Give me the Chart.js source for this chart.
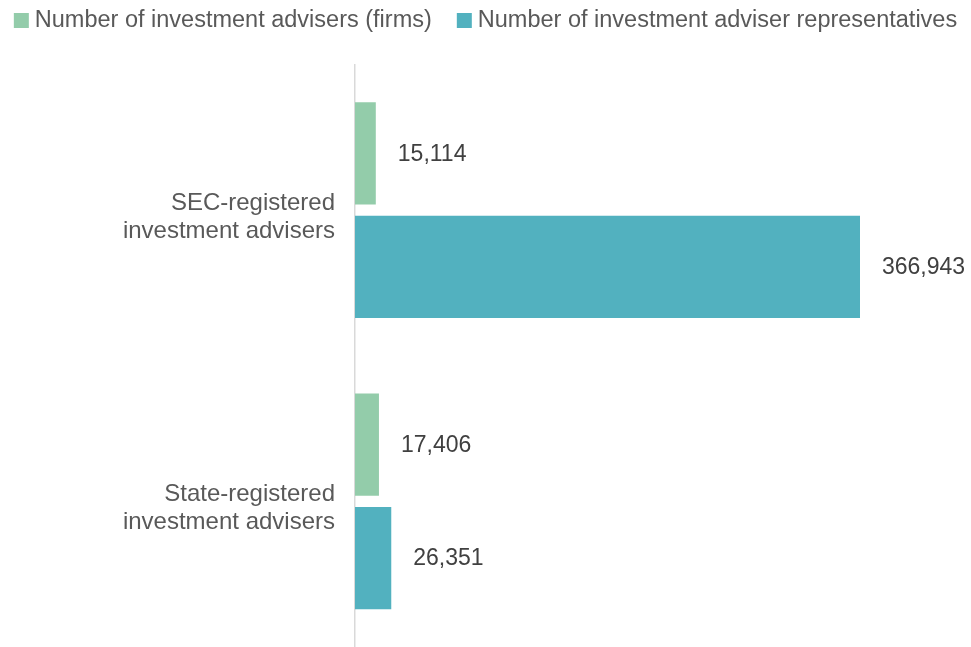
<!DOCTYPE html>
<html>
<head>
<meta charset="utf-8">
<script src="https://cdn.jsdelivr.net/npm/chart.js@4.4.0/dist/chart.umd.min.js"></script>
<style>
  html, body { margin: 0; padding: 0; background: #ffffff; }
  #wrap { width: 971px; height: 647px; position: relative; }
</style>
</head>
<body>
<div id="wrap"><canvas id="advisersChart"></canvas></div>
<script>
// categories (two-line tick labels)
const categories = [
  ["SEC-registered", "investment advisers"],
  ["State-registered", "investment advisers"]
];
const seriesNames = [
  "Number of investment advisers (firms)",
  "Number of investment adviser representatives"
];
const firmCounts = [15114, 17406];
const representativeCounts = [366943, 26351];

const FONT = "'Liberation Sans', Arial, sans-serif";
const GREEN = "#93CCAA";
const TEAL = "#52B1BF";

Chart.defaults.font.family = FONT;

// legend drawn by hand so the spacing matches the original
const topLegend = {
  id: "topLegend",
  afterDraw(chart) {
    const ctx = chart.ctx;
    const box = 15, gapText = 6, gapItem = 25, y = 20;
    ctx.save();
    ctx.font = "23.5px " + FONT;
    ctx.textBaseline = "middle";
    ctx.textAlign = "left";
    const items = chart.data.datasets.map(ds => ({
      text: ds.label,
      color: ds.backgroundColor,
      w: box + gapText + ctx.measureText(ds.label).width
    }));
    const total = items.reduce((s, it) => s + it.w, 0) + gapItem * (items.length - 1);
    let x = (chart.width - total) / 2;
    items.forEach(it => {
      ctx.fillStyle = it.color;
      ctx.fillRect(x, y - box / 2 + 0.5, box, box);
      ctx.fillStyle = "#595959";
      ctx.fillText(it.text, x + box + gapText, y + 1);
      x += it.w + gapItem;
    });
    ctx.restore();
  }
};

// value labels to the right of each bar
const valueLabels = {
  id: "valueLabels",
  afterDatasetsDraw(chart) {
    const ctx = chart.ctx;
    ctx.save();
    ctx.font = "23px " + FONT;
    ctx.fillStyle = "#404040";
    ctx.textBaseline = "middle";
    ctx.textAlign = "left";
    chart.data.datasets.forEach((ds, i) => {
      chart.getDatasetMeta(i).data.forEach((bar, j) => {
        ctx.fillText(ds.data[j].toLocaleString("en-US"), bar.x + 22, bar.y + 1);
      });
    });
    ctx.restore();
  }
};

new Chart(document.getElementById("advisersChart"), {
  type: "bar",
  data: {
    labels: categories,
    datasets: [
      {
        label: seriesNames[0],
        data: firmCounts,
        backgroundColor: GREEN,
        categoryPercentage: 0.779,
        barPercentage: 0.903
      },
      {
        label: seriesNames[1],
        data: representativeCounts,
        backgroundColor: TEAL,
        categoryPercentage: 0.779,
        barPercentage: 0.903
      }
    ]
  },
  options: {
    indexAxis: "y",
    responsive: true,
    maintainAspectRatio: false,
    animation: false,
    layout: { padding: { top: 64.5, bottom: -3.5, left: 0, right: 0 } },
    plugins: {
      legend: { display: false },
      tooltip: { enabled: false }
    },
    scales: {
      x: {
        display: false,
        min: 0,
        max: 447600
      },
      y: {
        grid: { display: false, drawTicks: false },
        border: { display: true, color: "#d9d9d9", width: 1.5 },
        ticks: {
          color: "#595959",
          padding: 20,
          labelOffset: 7,
          font: { size: 24, lineHeight: 1.17 }
        },
        afterFit(scale) {
          scale.width = 355;
          // labels sit mid-band, let layout.padding decide top/bottom
          scale.paddingTop = -100;
          scale.paddingBottom = -100;
        }
      }
    }
  },
  plugins: [topLegend, valueLabels]
});
</script>
</body>
</html>
